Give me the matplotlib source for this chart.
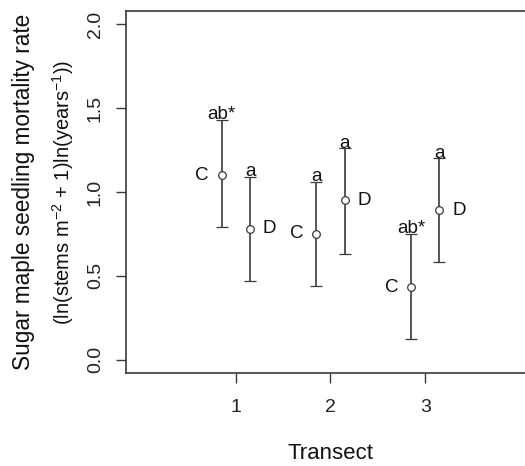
import matplotlib
matplotlib.use("Agg")
import matplotlib.pyplot as plt
import numpy as np

plt.rcParams['font.family'] = ['Liberation Sans', 'DejaVu Sans']
plt.rcParams['mathtext.fontset'] = 'custom'
plt.rcParams['mathtext.rm'] = 'Liberation Sans'
plt.rcParams['mathtext.default'] = 'regular'

# data
transects = [1, 2, 3]
control_mean = [1.10, 0.75, 0.43]
control_upper = [1.43, 1.06, 0.75]
control_lower = [0.79, 0.44, 0.12]
control_letters = ["ab*", "a", "ab*"]
deer_mean = [0.78, 0.95, 0.89]
deer_upper = [1.09, 1.26, 1.20]
deer_lower = [0.47, 0.63, 0.58]
deer_letters = ["a", "a", "a"]
offset = 0.15
line_col = '#3a3a3a'

fig = plt.figure(figsize=(5.25, 4.66), dpi=100)
ax = fig.add_axes([0.24, 0.1996, 0.779, 0.777])

def draw_group(xs, mean, lower, upper, tag, letters, side):
    xs = np.array(xs)
    mean = np.array(mean)
    err = [mean - np.array(lower), np.array(upper) - mean]
    ax.errorbar(xs, mean, yerr=err, fmt='o', mfc='white', mec=line_col,
                ms=5.5, mew=0.9, ecolor=line_col, elinewidth=1.2, capsize=4,
                capthick=1.2)
    for x, m, u, lt in zip(xs, mean, upper, letters):
        dx = -14 if side == 'left' else 14
        ax.annotate(tag, (x, m), xytext=(dx, 0), textcoords='offset points',
                    ha='center', va='center', fontsize=13.5, color='#111111')
        ax.annotate(lt, (x, u), xytext=(0, 0.5), textcoords='offset points',
                    ha='center', va='baseline', fontsize=13.5, color='#111111')

draw_group(np.array(transects) - offset, control_mean, control_lower,
           control_upper, "C", control_letters, 'left')
draw_group(np.array(transects) + offset, deer_mean, deer_lower,
           deer_upper, "D", deer_letters, 'right')

ax.set_xlim(-0.16, 4.16)
ax.set_ylim(-0.08, 2.08)
ax.set_xticks(transects)
ax.set_yticks([0.0, 0.5, 1.0, 1.5, 2.0])
ax.set_yticklabels(["0.0", "0.5", "1.0", "1.5", "2.0"], rotation=90, va='center')
ax.tick_params(direction='out', length=7, width=1.0, color=line_col,
               labelsize=14, labelcolor='#222222')
ax.tick_params(axis='x', pad=12)
ax.tick_params(axis='y', pad=9)
for s in ax.spines.values():
    s.set_color(line_col)
    s.set_linewidth(1.2)

ax.set_xlabel("Transect", fontsize=16, color='#111111', labelpad=19)
fig.text(0.044, 0.588, "Sugar maple seedling mortality rate", rotation=90,
         ha='center', va='center', fontsize=16.3, color='#111111')
fig.text(0.12, 0.588, r"(ln(stems m$^{-2}$ + 1)ln(years$^{-1}$))", rotation=90,
         ha='center', va='center', fontsize=14.5, color='#111111')

fig.savefig("out.png", dpi=100)
